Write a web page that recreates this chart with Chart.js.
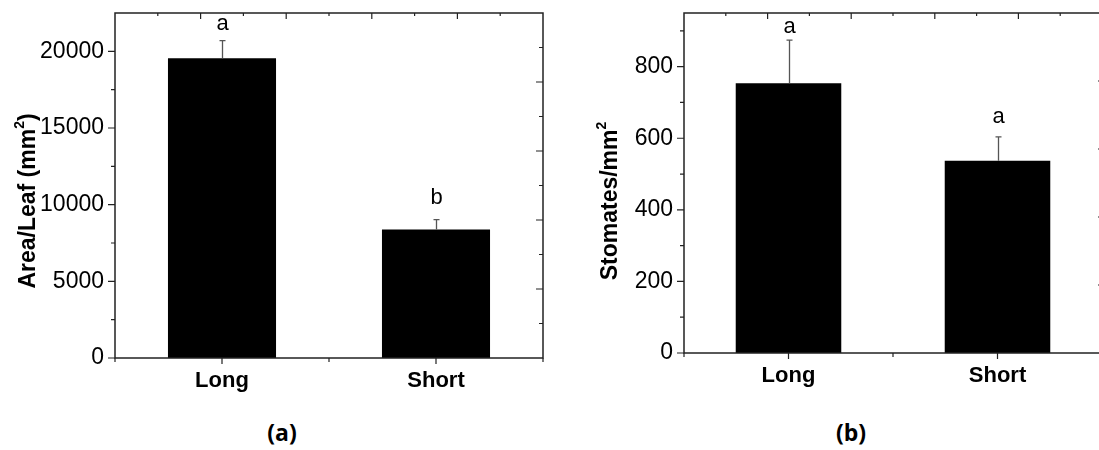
<!DOCTYPE html>
<html lang="en">
<head>
<meta charset="UTF-8">
<title>Leaf area and stomatal density</title>
<script src="https://cdn.jsdelivr.net/npm/chart.js@4.4.0/dist/chart.umd.min.js"></script>
<style>
  body {
    margin: 0;
    width: 1099px;
    height: 450px;
    overflow: hidden;
    background: #fff;
    position: relative;
  }
  .panel { position: absolute; top: 0; }
  #panelA { left: 0; }
  #panelB { left: 560px; }
  .caption {
    position: absolute;
    top: 421px;
    line-height: 23px;
    font-family: 'Open Sans', sans-serif;
    font-weight: 700;
    font-size: 23px;
    transform: translateX(-50%);
  }
</style>
</head>
<body>
<div class="panel" id="panelA"><canvas id="chartA" width="560" height="400"></canvas></div>
<div class="panel" id="panelB"><canvas id="chartB" width="550" height="400"></canvas></div>
<div class="caption" style="left:282px">(a)</div>
<div class="caption" style="left:851px">(b)</div>

<script>
const categories = ['Long', 'Short'];

// (a) leaf area
const areaMean = [19550, 8380];
const areaErr = [1150, 650];
const areaLetters = ['a', 'b'];
const areaTicks = [0, 5000, 10000, 15000, 20000];

// (b) stomatal density
const stomMean = [754, 537];
const stomErr = [120, 67];
const stomLetters = ['a', 'a'];
const stomTicks = [0, 200, 400, 600, 800];

const FONT = "'Liberation Sans', Arial, sans-serif";

// frame, Origin-style tick marks, error bars, letters and the y title
const figurePlugin = {
    id: 'figure',
    afterDatasetsDraw(chart, args, o) {
        const ctx = chart.ctx;
        const a = chart.chartArea;
        const x = chart.scales.x, y = chart.scales.y;
        const means = chart.data.datasets[0].data;
        ctx.save();

        // error bars (upper only) + significance letters
        ctx.strokeStyle = '#555';
        ctx.lineWidth = 1.3;
        ctx.fillStyle = '#000';
        ctx.font = '22px ' + FONT;
        ctx.textAlign = 'center';
        ctx.textBaseline = 'alphabetic';
        chart.getDatasetMeta(0).data.forEach((bar, i) => {
            const cx = Math.round(bar.x) + 0.5;
            const top = y.getPixelForValue(means[i] + o.err[i]);
            ctx.beginPath();
            ctx.moveTo(cx, bar.y);
            ctx.lineTo(cx, top);
            ctx.moveTo(cx - 3, top);
            ctx.lineTo(cx + 3, top);
            ctx.stroke();
            ctx.fillText(o.letters[i], cx, top - o.gap[i]);
        });

        // box
        ctx.strokeStyle = '#222';
        ctx.lineWidth = 1.5;
        ctx.strokeRect(a.left, a.top, a.right - a.left, a.bottom - a.top);

        // ticks
        const seg = (x1, y1, x2, y2) => { ctx.moveTo(x1, y1); ctx.lineTo(x2, y2); };
        ctx.lineWidth = 1.2;
        ctx.beginPath();
        const majors = y.ticks.map(t => t.value);
        const step = majors[1] - majors[0];
        majors.forEach(v => {
            const p = y.getPixelForValue(v);
            seg(a.left - 7, p, a.left, p);
            const m = v + step / 2;
            if (m < y.max) {
                const q = y.getPixelForValue(m);
                seg(a.left - 4, q, a.left, q);
            }
        });
        categories.forEach((c, i) => {
            const p = x.getPixelForValue(i);
            seg(p, a.bottom, p, a.bottom + 6);
            if (i < categories.length - 1) {
                const q = (p + x.getPixelForValue(i + 1)) / 2;
                seg(q, a.bottom, q, a.bottom + 4);
            }
        });
        seg(a.left, a.bottom, a.left, a.bottom + 4);
        seg(a.right, a.bottom, a.right, a.bottom + 4);
        const w = a.right - a.left, h = a.bottom - a.top;
        for (let k = 1; k < o.topDiv; k++) {
            const p = a.left + w * k / o.topDiv;
            seg(p, a.top, p, a.top + (k % 2 ? 3 : 6));
        }
        for (let k = 1; k < o.rightDiv; k++) {
            const p = a.top + h * k / o.rightDiv;
            const len = o.rightMajor && k % 2 === 0 ? 7 : 4;
            seg(a.right, p, a.right - len, p);
        }
        ctx.stroke();

        // rotated y title with superscript
        ctx.translate(o.titleX, o.titleY);
        ctx.rotate(-Math.PI / 2);
        ctx.textAlign = 'left';
        ctx.textBaseline = 'middle';
        const main = 'bold 23px ' + FONT, sup = 'bold 14px ' + FONT;
        ctx.font = main;
        const w1 = ctx.measureText(o.title[0]).width;
        const w3 = ctx.measureText(o.title[2]).width;
        ctx.font = sup;
        const w2 = ctx.measureText(o.title[1]).width;
        let sx = -(w1 + w2 + w3) / 2;
        ctx.font = main;
        ctx.fillText(o.title[0], sx, 0);
        ctx.font = sup;
        ctx.fillText(o.title[1], sx + w1, -9);
        ctx.font = main;
        ctx.fillText(o.title[2], sx + w1 + w2, 0);

        ctx.restore();
    }
};

function makeChart(id, p) {
    return new Chart(document.getElementById(id), {
        type: 'bar',
        data: {
            labels: categories,
            datasets: [{
                data: p.mean,
                backgroundColor: '#000',
                borderWidth: 0,
                barPercentage: 0.505,
                categoryPercentage: 1
            }]
        },
        options: {
            responsive: false,
            animation: false,
            layout: { padding: { top: 13, right: p.padRight, bottom: 0, left: 0 } },
            plugins: {
                legend: { display: false },
                tooltip: { enabled: false },
                figure: {
                    err: p.err, letters: p.letters, gap: p.gap,
                    topDiv: 10, rightDiv: p.rightDiv, rightMajor: p.rightMajor,
                    title: p.title, titleX: p.titleX, titleY: 201
                }
            },
            scales: {
                x: {
                    afterFit: s => { s.height = p.xHeight; s.paddingLeft = 0; s.paddingRight = 0; },
                    grid: { display: false, drawTicks: false },
                    border: { display: false },
                    ticks: { color: '#000', padding: 10, font: { family: FONT, size: 22, weight: 'bold' } }
                },
                y: {
                    min: 0,
                    max: p.max,
                    afterBuildTicks: s => { s.ticks = p.ticks.map(v => ({ value: v })); },
                    afterFit: s => { s.width = p.yWidth; s.paddingTop = 0; s.paddingBottom = 0; },
                    grid: { display: false, drawTicks: false },
                    border: { display: false },
                    ticks: {
                        color: '#000', padding: 11, font: { family: FONT, size: 23 },
                        callback: v => String(v)
                    }
                }
            }
        },
        plugins: [figurePlugin]
    });
}

makeChart('chartA', {
    mean: areaMean, err: areaErr, letters: areaLetters, ticks: areaTicks,
    max: 22500, yWidth: 115, xHeight: 42, padRight: 17,
    rightDiv: 10, rightMajor: true, gap: [11, 16],
    title: ['Area/Leaf (mm', '2', ')'], titleX: 29
});

makeChart('chartB', {
    mean: stomMean, err: stomErr, letters: stomLetters, ticks: stomTicks,
    max: 950, yWidth: 124, xHeight: 47, padRight: 8,
    rightDiv: 5, rightMajor: false, gap: [7, 14],
    title: ['Stomates/mm', '2', ''], titleX: 51
});
</script>
</body>
</html>
